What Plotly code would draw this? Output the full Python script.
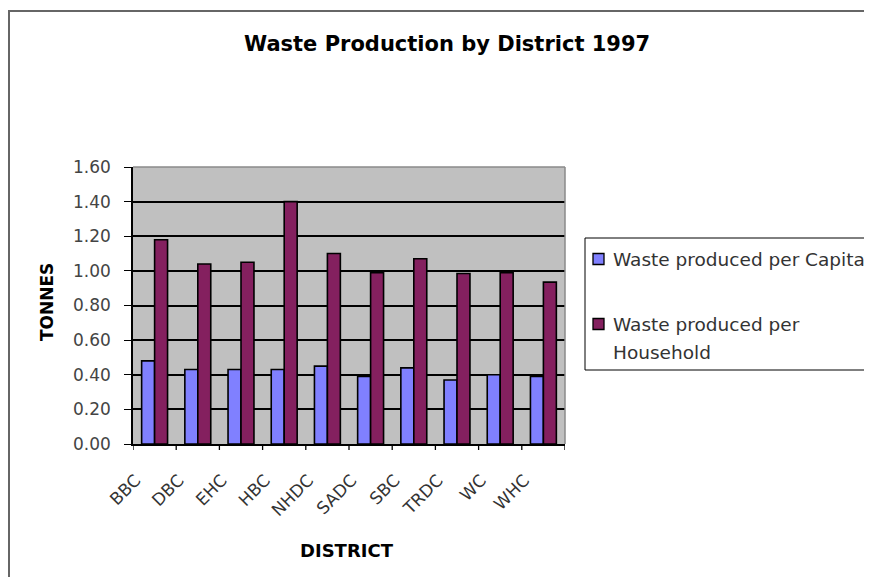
import plotly.graph_objects as go

districts = ["BBC", "DBC", "EHC", "HBC", "NHDC", "SADC", "SBC", "TRDC", "WC", "WHC"]
per_capita = [0.48, 0.43, 0.43, 0.43, 0.45, 0.39, 0.44, 0.37, 0.40, 0.39]
per_household = [1.18, 1.04, 1.05, 1.40, 1.10, 0.99, 1.07, 0.985, 0.99, 0.935]
y_ticks = [0.0, 0.2, 0.4, 0.6, 0.8, 1.0, 1.2, 1.4, 1.6]
series_names = ["Waste produced per Capita", "Waste produced per Household"]
series_colors = ["#8080FF", "#84205F"]
chart_title = "Waste Production by District 1997"
x_title = "DISTRICT"
y_title = "TONNES"

# page geometry (the page body adds an 8px offset)
OFF = 8
PL, PR, PT, PB = 133, 565, 167, 444          # plot area in page pixels
W, H = 864, 569

def px_x(x):
    return (x - PL) / (PR - PL)

def px_y(y):
    return (PB - y) / (PB - PT)

fig = go.Figure()
for name, vals, col in zip(series_names, [per_capita, per_household], series_colors):
    fig.add_trace(go.Bar(x=districts, y=vals, name=name, showlegend=False,
                         marker=dict(color=col, line=dict(color="black", width=1.6))))

fig.update_layout(
    width=W, height=H,
    margin=dict(l=PL - OFF, r=W - (PR - OFF), t=PT - OFF, b=H - (PB - OFF), pad=0),
    paper_bgcolor="white",
    plot_bgcolor="#C0C0C0",
    barmode="group", bargap=0.40, bargroupgap=0.0,
    font=dict(family="DejaVu Sans", size=17, color="#222"),
    showlegend=False,
    xaxis=dict(tickangle=-45, showline=True, linecolor="black", linewidth=1.5,
               ticks="", showgrid=False, tickfont=dict(family="DejaVu Sans", size=17, color="#333"),
               range=[-0.5, 9.5], ticklabelshift=-19, ticklabelstandoff=18),
    yaxis=dict(range=[0, 1.6], tickvals=y_ticks, tickformat=".2f",
               showline=True, linecolor="black", linewidth=1.5,
               ticks="outside", ticklen=7, tickcolor="black", tickwidth=1.3,
               showgrid=True, gridcolor="black", gridwidth=1.5,
               zeroline=False, ticklabelstandoff=10,
               tickfont=dict(family="DejaVu Sans", size=17, color="#444")),
)

shapes = []
# x-axis category boundary ticks
for i in range(len(districts) + 1):
    xv = i - 0.5
    shapes.append(dict(type="line", xref="x", yref="paper", x0=xv, x1=xv, y0=0, y1=-6 / (PB - PT),
                       line=dict(color="black", width=1.3)))
# plot area top/right border (gray)
shapes.append(dict(type="line", xref="paper", yref="paper", x0=0, x1=1, y0=1, y1=1,
                   line=dict(color="#8a8a8a", width=1.5)))
shapes.append(dict(type="line", xref="paper", yref="paper", x0=1, x1=1, y0=0, y1=1,
                   line=dict(color="#8a8a8a", width=1.5)))
# outer chart border (left and top visible)
shapes.append(dict(type="line", xref="paper", yref="paper", x0=px_x(9), x1=px_x(9),
                   y0=px_y(11), y1=px_y(600), line=dict(color="#666", width=2)))
shapes.append(dict(type="line", xref="paper", yref="paper", x0=px_x(8), x1=px_x(900),
                   y0=px_y(11), y1=px_y(11), line=dict(color="#666", width=2)))
# legend box
shapes.append(dict(type="rect", xref="paper", yref="paper", x0=px_x(585), x1=px_x(900),
                   y0=px_y(238), y1=px_y(370), line=dict(color="black", width=1),
                   fillcolor="white", layer="above"))
# legend swatches
for col, yc in zip(series_colors, [259, 324]):
    shapes.append(dict(type="rect", xref="paper", yref="paper", x0=px_x(593), x1=px_x(604),
                       y0=px_y(yc - 5.5), y1=px_y(yc + 5.5), line=dict(color="black", width=1.3),
                       fillcolor=col, layer="above"))
fig.update_layout(shapes=shapes)

ann = []
ann.append(dict(text="<b>" + chart_title + "</b>", x=px_x(447), y=px_y(44), xref="paper", yref="paper",
                xanchor="center", yanchor="middle", showarrow=False,
                font=dict(family="DejaVu Sans", size=21, color="black")))
ann.append(dict(text="<b>" + x_title + "</b>", x=px_x(347), y=px_y(550), xref="paper", yref="paper",
                xanchor="center", yanchor="middle", showarrow=False,
                font=dict(family="DejaVu Sans", size=18, color="black")))
ann.append(dict(text="<b>" + y_title + "</b>", x=px_x(47), y=px_y(302), xref="paper", yref="paper",
                xanchor="center", yanchor="middle", showarrow=False, textangle=-90,
                font=dict(family="DejaVu Sans", size=17, color="black")))
# legend text (second name wraps onto two lines)
legend_lines = [(series_names[0], 259),
                (" ".join(series_names[1].split(" ")[:-1]), 324),
                (series_names[1].split(" ")[-1], 352)]
for txt, yc in legend_lines:
    ann.append(dict(text=txt, x=px_x(611), y=px_y(yc), xref="paper", yref="paper",
                    xanchor="left", yanchor="middle", showarrow=False,
                    font=dict(family="DejaVu Sans", size=18.5, color="#333")))
fig.update_layout(annotations=ann)

fig.write_html("out.html")
